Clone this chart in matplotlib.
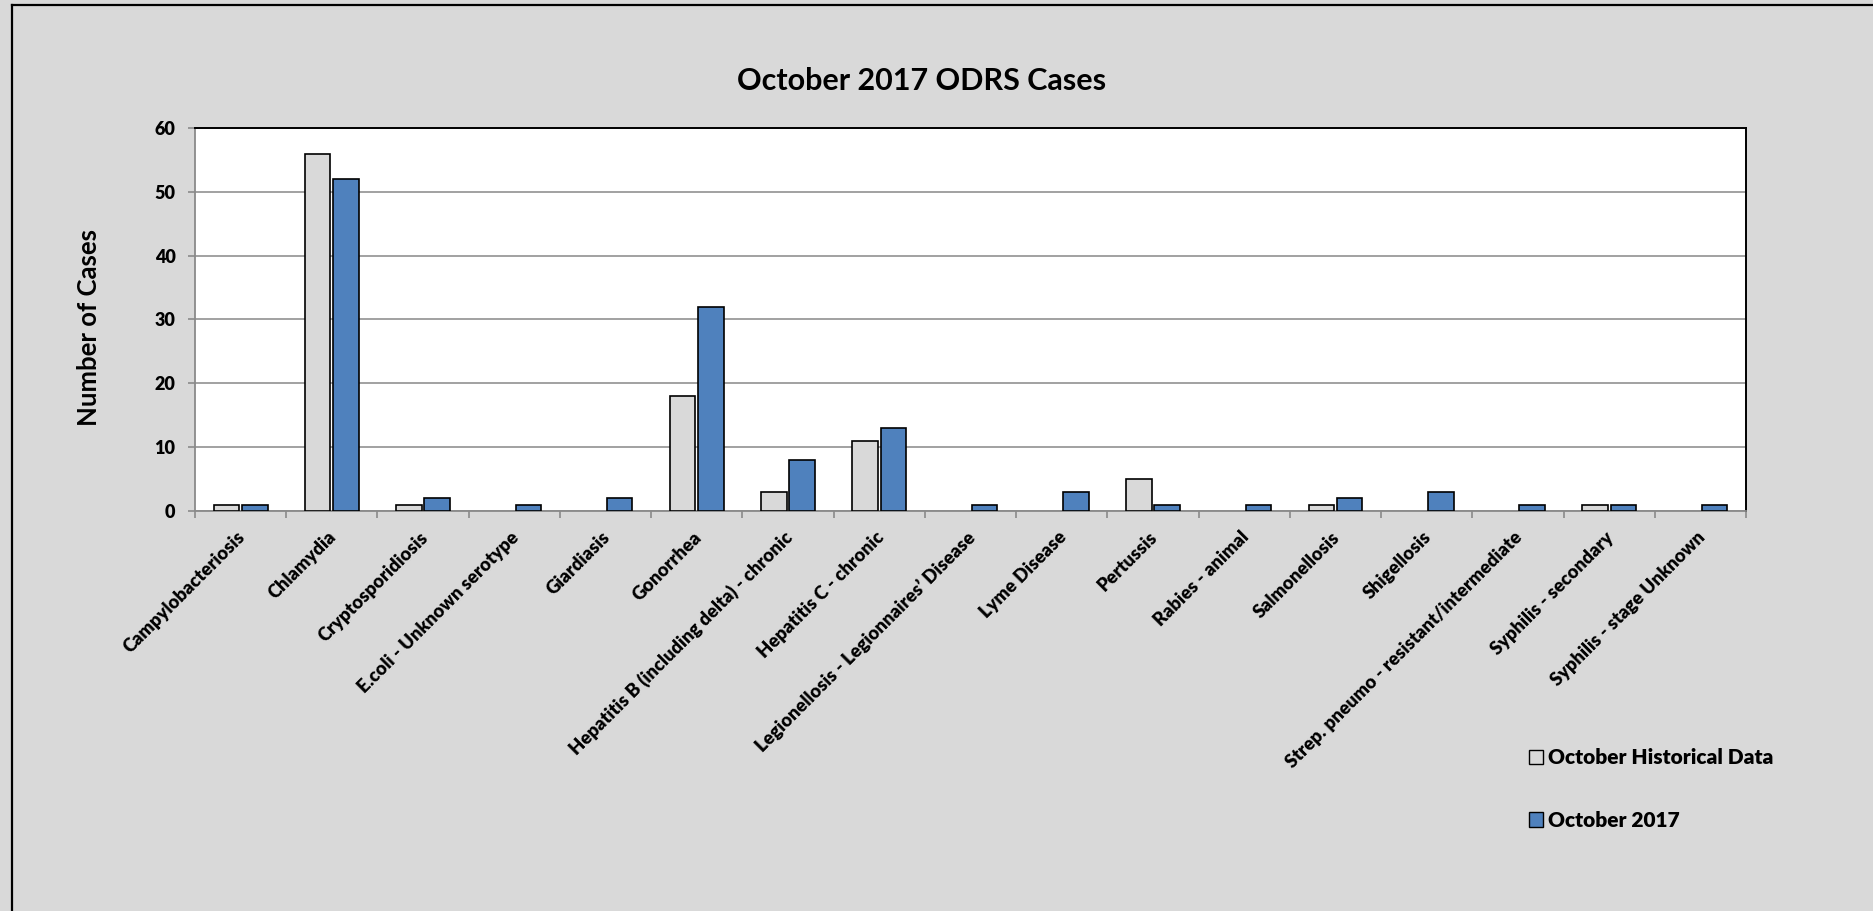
import numpy as np
import matplotlib
matplotlib.use("Agg")
import matplotlib.pyplot as plt
import matplotlib.transforms as mtransforms
from matplotlib.lines import Line2D
from matplotlib.patches import Patch

plt.rcParams['font.family'] = ['Lato', 'DejaVu Sans']
plt.rcParams['font.weight'] = 'bold'

# --- Data ---
diseases = [
    "Campylobacteriosis",
    "Chlamydia",
    "Cryptosporidiosis",
    "E.coli - Unknown serotype",
    "Giardiasis",
    "Gonorrhea",
    "Hepatitis B (including delta) - chronic",
    "Hepatitis C - chronic",
    "Legionellosis - Legionnaires\u2019 Disease",
    "Lyme Disease",
    "Pertussis",
    "Rabies - animal",
    "Salmonellosis",
    "Shigellosis",
    "Strep. pneumo - resistant/intermediate",
    "Syphilis - secondary",
    "Syphilis - stage Unknown",
]
historical = [1, 56, 1, 0, 0, 18, 3, 11, 0, 0, 5, 0, 1, 0, 0, 1, 0]
oct_2017 = [1, 52, 2, 1, 2, 32, 8, 13, 1, 3, 1, 1, 2, 3, 1, 1, 1]

series_labels = ["October Historical Data", "October 2017"]
gray_fill = "#d9d9d9"
blue_fill = "#4f81bd"
bg = "#d9d9d9"
label_weight = "heavy"

# --- Figure ---
fig = plt.figure(figsize=(18.73, 9.11), dpi=100, facecolor=bg)
ax = fig.add_axes([0.1041, 0.4391, 0.8281, 0.4204])
ax.set_facecolor("white")

x = np.arange(len(diseases))
w = 0.28
bars_hist = ax.bar(x - 0.155, historical, width=w, color=gray_fill,
                   edgecolor="black", linewidth=1.2, zorder=3)
bars_2017 = ax.bar(x + 0.155, oct_2017, width=w, color=blue_fill,
                   edgecolor="black", linewidth=1.2, zorder=3)
# empty categories should not leave an outline on the baseline
for b in list(bars_hist) + list(bars_2017):
    if b.get_height() == 0:
        b.set_visible(False)

ax.set_xlim(-0.5, len(diseases) - 0.5)
ax.set_ylim(0, 60)
ax.set_yticks(np.arange(0, 61, 10))
ax.yaxis.grid(True, color="#9a9a9a", linewidth=1.3, zorder=0)
ax.set_axisbelow(True)

# spines: axes in gray, plot-area frame in black
for side in ("left", "bottom"):
    ax.spines[side].set_color("#8a8a8a")
    ax.spines[side].set_linewidth(1.3)
for side in ("top", "right"):
    ax.spines[side].set_color("black")
    ax.spines[side].set_linewidth(1.4)

ax.tick_params(axis="y", direction="out", length=5, width=1.2, color="#8a8a8a",
               pad=9, labelsize=13)
ax.set_xticks(x)
ax.set_xticks(np.arange(-0.5, len(diseases), 1), minor=True)
ax.tick_params(axis="x", which="major", length=0, pad=17)
ax.tick_params(axis="x", which="minor", direction="out", length=5, width=1.2,
               color="#8a8a8a")
ax.set_xticklabels(diseases, rotation=45, ha="right", va="center",
                   rotation_mode="anchor", fontsize=13.2,
                   fontweight=label_weight)
shift = mtransforms.ScaledTranslation(0.02, 0, fig.dpi_scale_trans)
for lbl in ax.get_xticklabels():
    lbl.set_transform(lbl.get_transform() + shift)
for lbl in ax.get_yticklabels():
    lbl.set_fontweight(label_weight)

fig.text(922 / 1873, 1 - 81 / 911, "October 2017 ODRS Cases", ha="center",
         va="center", fontsize=22, fontweight="bold")
fig.text(89 / 1873, 1 - 327 / 911, "Number of Cases", ha="center", va="center",
         rotation=90, fontsize=18.5, fontweight="bold")

handles = [Patch(facecolor=gray_fill, edgecolor="black", linewidth=1.0),
           Patch(facecolor=blue_fill, edgecolor="black", linewidth=1.0)]
fig.legend(handles, series_labels, loc="upper left",
           bbox_to_anchor=(1529 / 1873, 1 - 748 / 911), frameon=False,
           prop={"weight": label_weight, "size": 15},
           handlelength=0.67, handleheight=0.67, handletextpad=0.25,
           labelspacing=2.1, borderpad=0, borderaxespad=0)

# outer chart frame (left and top edges)
fig.add_artist(Line2D([11.5 / 1873, 11.5 / 1873], [0, 1 - 4.5 / 911],
                      transform=fig.transFigure, color="black", linewidth=1.6))
fig.add_artist(Line2D([11.5 / 1873, 1], [1 - 4.5 / 911, 1 - 4.5 / 911],
                      transform=fig.transFigure, color="black", linewidth=1.6))

fig.savefig("out.png", dpi=100, facecolor=bg)
